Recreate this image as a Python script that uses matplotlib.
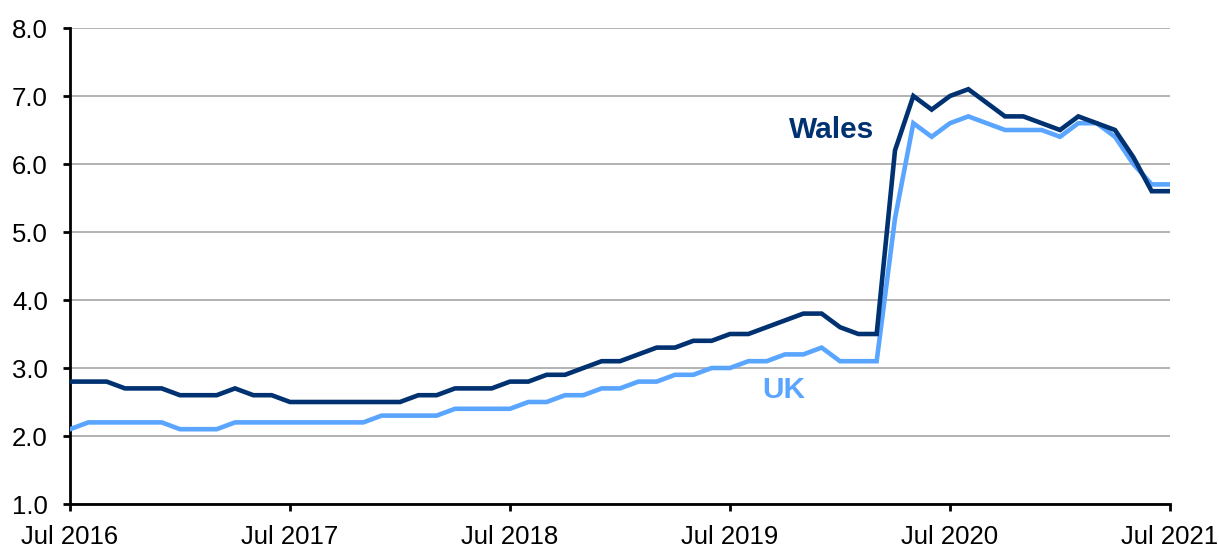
import pandas as pd
import matplotlib.pyplot as plt

# monthly figures, Jul 2016 - Jul 2021 (evenly spaced categories)
months = pd.date_range("2016-07-01", periods=61, freq="MS")
month_labels = [d.strftime("%b %Y") for d in months]

wales = [2.8, 2.8, 2.8, 2.7, 2.7, 2.7, 2.6, 2.6, 2.6, 2.7, 2.6, 2.6,
         2.5, 2.5, 2.5, 2.5, 2.5, 2.5, 2.5, 2.6, 2.6, 2.7, 2.7, 2.7,
         2.8, 2.8, 2.9, 2.9, 3.0, 3.1, 3.1, 3.2, 3.3, 3.3, 3.4, 3.4,
         3.5, 3.5, 3.6, 3.7, 3.8, 3.8, 3.6, 3.5, 3.5, 6.2, 7.0, 6.8,
         7.0, 7.1, 6.9, 6.7, 6.7, 6.6, 6.5, 6.7, 6.6, 6.5, 6.1, 5.6,
         5.6]

uk = [2.1, 2.2, 2.2, 2.2, 2.2, 2.2, 2.1, 2.1, 2.1, 2.2, 2.2, 2.2,
      2.2, 2.2, 2.2, 2.2, 2.2, 2.3, 2.3, 2.3, 2.3, 2.4, 2.4, 2.4,
      2.4, 2.5, 2.5, 2.6, 2.6, 2.7, 2.7, 2.8, 2.8, 2.9, 2.9, 3.0,
      3.0, 3.1, 3.1, 3.2, 3.2, 3.3, 3.1, 3.1, 3.1, 5.2, 6.6, 6.4,
      6.6, 6.7, 6.6, 6.5, 6.5, 6.5, 6.4, 6.6, 6.6, 6.4, 6.0, 5.7,
      5.7]

y_ticks = [1.0, 2.0, 3.0, 4.0, 5.0, 6.0, 7.0, 8.0]

navy = "#003170"
light = "#5aa5ff"

plt.rcParams["font.family"] = ["Liberation Sans", "DejaVu Sans"]

fig = plt.figure(figsize=(12.19, 5.47), dpi=100)
ax = fig.add_axes([70 / 1219, 1 - 504 / 547, 1100 / 1219, 476 / 547])

x = list(range(len(months)))
ax.plot(x, uk, color=light, linewidth=3.3, solid_joinstyle="miter", zorder=3)
ax.plot(x, wales, color=navy, linewidth=3.3, solid_joinstyle="miter", zorder=3)

ax.set_xlim(x[0], x[-1])
ax.set_ylim(1.0, 8.0)
ax.set_yticks(y_ticks)
ax.set_yticklabels([f"{v:.1f}" for v in y_ticks])
ax.set_xticks(x[::12])
ax.set_xticklabels(month_labels[::12])

ax.grid(axis="y", color="#a6a6a6", linewidth=1.2, zorder=0)
ax.set_axisbelow(True)

for s in ["top", "right"]:
    ax.spines[s].set_visible(False)
ax.spines["left"].set_linewidth(2)
ax.spines["bottom"].set_linewidth(2)

ax.tick_params(axis="both", labelsize=18.5, colors="black", width=2, length=5,
               direction="out")
ax.tick_params(axis="y", pad=11)
ax.tick_params(axis="x", pad=10)

ax.text(0.692, 0.786, "Wales", transform=ax.transAxes, color=navy,
        fontsize=21.5, fontweight="bold", ha="center", va="center")
ax.text(0.649, 0.24, "UK", transform=ax.transAxes, color=light,
        fontsize=21.5, fontweight="bold", ha="center", va="center")

fig.savefig("out.png", dpi=100)
